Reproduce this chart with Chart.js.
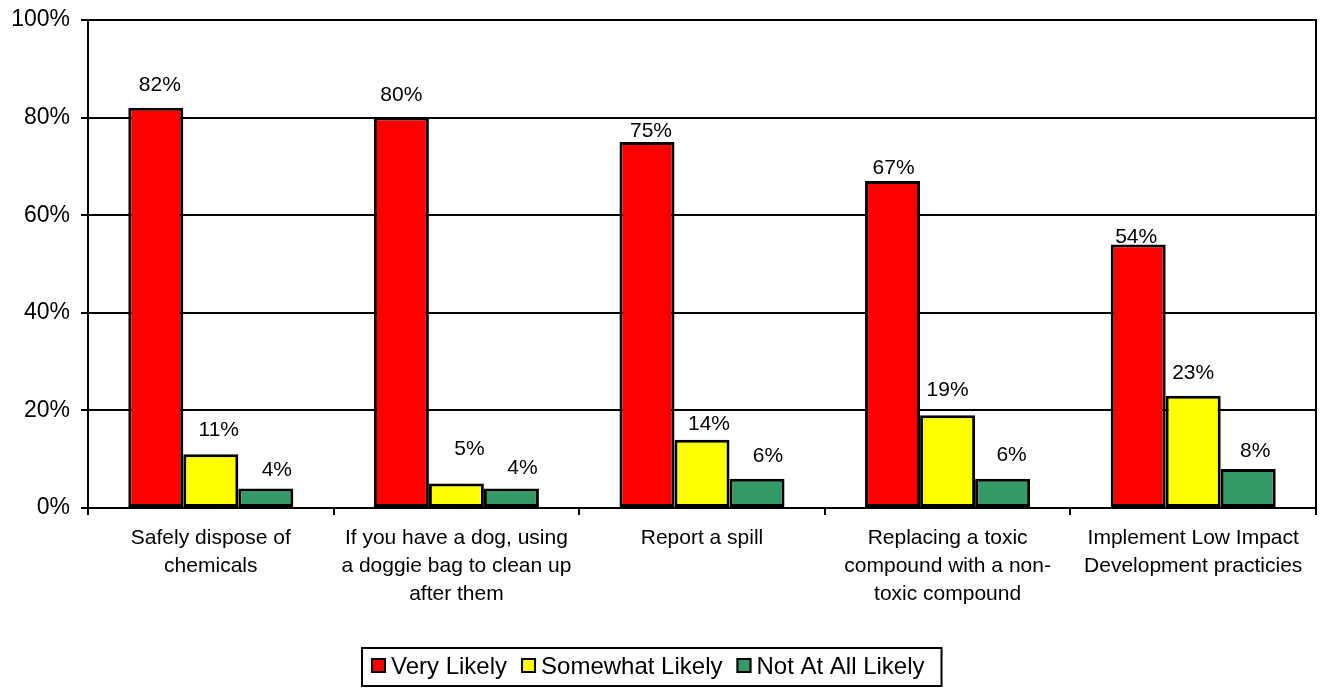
<!DOCTYPE html>
<html>
<head>
<meta charset="utf-8">
<script src="https://cdn.jsdelivr.net/npm/chart.js@4/dist/chart.umd.min.js"></script>
<style>
  html, body { margin: 0; padding: 0; background: #fff; }
  canvas { display: block; }
</style>
</head>
<body>
<canvas id="detailChart" width="1322" height="688"></canvas>
<script>
var FONT = '"Liberation Sans", Arial, sans-serif';

var categories = [
    ['Safely dispose of', 'chemicals'],
    ['If you have a dog, using', 'a doggie bag to clean up', 'after them'],
    ['Report a spill'],
    ['Replacing a toxic', 'compound with a non-', 'toxic compound'],
    ['Implement Low Impact', 'Development practicies']
];
var veryLikely = [82, 80, 75, 67, 54];
var somewhatLikely = [11, 5, 14, 19, 23];
var notAtAllLikely = [4, 4, 6, 6, 8];
var yTicks = [0, 20, 40, 60, 80, 100];

// value labels sit above each bar, a few were nudged by hand
var labelNudge = {
    dy: [[23, 22, 11, 13, 7], [24, 34, 15, 25, 23], [18, 20, 23, 24, 18]],
    dx: [[4, 0, 4, 1, -2], [8, 13, 7, 0, 0], [11, 11, 11, 9, 7]]
};

var valueLabels = {
    id: 'valueLabels',
    afterDatasetsDraw: function (chart) {
        var ctx = chart.ctx;
        ctx.save();
        ctx.font = '21px ' + FONT;
        ctx.fillStyle = '#000';
        ctx.textAlign = 'center';
        ctx.textBaseline = 'middle';
        chart.data.datasets.forEach(function (ds, i) {
            chart.getDatasetMeta(i).data.forEach(function (bar, j) {
                ctx.fillText(ds.data[j] + '%', bar.x + labelNudge.dx[i][j], bar.y - labelNudge.dy[i][j]);
            });
        });
        ctx.restore();
    }
};

// right edge of the plot frame
var frame = {
    id: 'frame',
    afterDraw: function (chart) {
        var a = chart.chartArea, ctx = chart.ctx;
        ctx.save();
        ctx.strokeStyle = '#000';
        ctx.lineWidth = 2;
        ctx.beginPath();
        ctx.moveTo(a.right, a.top - 1);
        ctx.lineTo(a.right, a.bottom + 7);
        ctx.stroke();
        ctx.restore();
    }
};

// boxed legend under the axis labels
var boxLegend = {
    id: 'boxLegend',
    afterDraw: function (chart) {
        var ctx = chart.ctx;
        var box = 15, gap = 5, between = 14, cy = 666;
        ctx.save();
        ctx.font = '24px ' + FONT;
        var items = chart.data.datasets.map(function (ds) {
            return { text: ds.label, color: ds.backgroundColor, w: ctx.measureText(ds.label).width };
        });
        var total = 0;
        items.forEach(function (it, k) {
            total += box + gap + it.w + (k < items.length - 1 ? between : 0);
        });
        var padL = 9, padR = 17;
        var left = Math.round(651.5 - (total + padL + padR) / 2);
        var right = left + total + padL + padR;
        ctx.strokeStyle = '#000';
        ctx.lineWidth = 2;
        ctx.strokeRect(left, 648, right - left, 38);

        var x = left + padL;
        ctx.textBaseline = 'middle';
        ctx.textAlign = 'left';
        items.forEach(function (it) {
            ctx.fillStyle = it.color;
            ctx.fillRect(x, cy - 8, box, box);
            ctx.strokeStyle = '#000';
            ctx.lineWidth = 2;
            ctx.strokeRect(x + 1, cy - 7, box - 2, box - 2);
            ctx.fillStyle = '#000';
            ctx.fillText(it.text, x + box + gap, cy + 1);
            x += box + gap + it.w + between;
        });
        ctx.restore();
    }
};

var data = {
    labels: categories,
    datasets: [{
        label: 'Very Likely',
        data: veryLikely,
        backgroundColor: '#FF0000'
    }, {
        label: 'Somewhat Likely',
        data: somewhatLikely,
        backgroundColor: '#FFFF00'
    }, {
        label: 'Not At All Likely',
        data: notAtAllLikely,
        backgroundColor: '#339966'
    }]
};

var ctx = document.getElementById('detailChart');
var detail = new Chart(ctx, {
    type: 'bar',
    data: data,
    plugins: [valueLabels, frame, boxLegend],
    options: {
        responsive: false,
        maintainAspectRatio: false,
        animation: false,
        devicePixelRatio: 1,
        layout: { padding: { top: 20, right: 6, bottom: 0, left: 0 } },
        datasets: {
            bar: {
                borderColor: '#000',
                borderWidth: 3,
                borderSkipped: false,
                categoryPercentage: 0.672,
                barPercentage: 1
            }
        },
        plugins: {
            legend: { display: false },
            tooltip: { enabled: false }
        },
        scales: {
            x: {
                afterFit: function (s) { s.height = 180; },
                grid: {
                    drawOnChartArea: false,
                    color: '#000',
                    lineWidth: 2,
                    tickLength: 7
                },
                border: { color: '#000', width: 2 },
                ticks: {
                    color: '#000',
                    padding: 9,
                    maxRotation: 0,
                    autoSkip: false,
                    font: { family: FONT, size: 21, lineHeight: 28 / 21 }
                }
            },
            y: {
                min: 0,
                max: 100,
                afterFit: function (s) {
                    s.width = 88;
                    s.paddingTop = 0;
                    s.paddingBottom = 0;
                },
                afterBuildTicks: function (s) {
                    s.ticks = yTicks.map(function (v) { return { value: v }; });
                },
                grid: {
                    color: '#000',
                    lineWidth: 2,
                    tickLength: 7,
                    tickColor: '#000'
                },
                border: { color: '#000', width: 2 },
                ticks: {
                    color: '#000',
                    padding: 11,
                    font: { family: FONT, size: 23 },
                    callback: function (v) { return v + '%'; }
                }
            }
        }
    }
});
</script>
</body>
</html>
